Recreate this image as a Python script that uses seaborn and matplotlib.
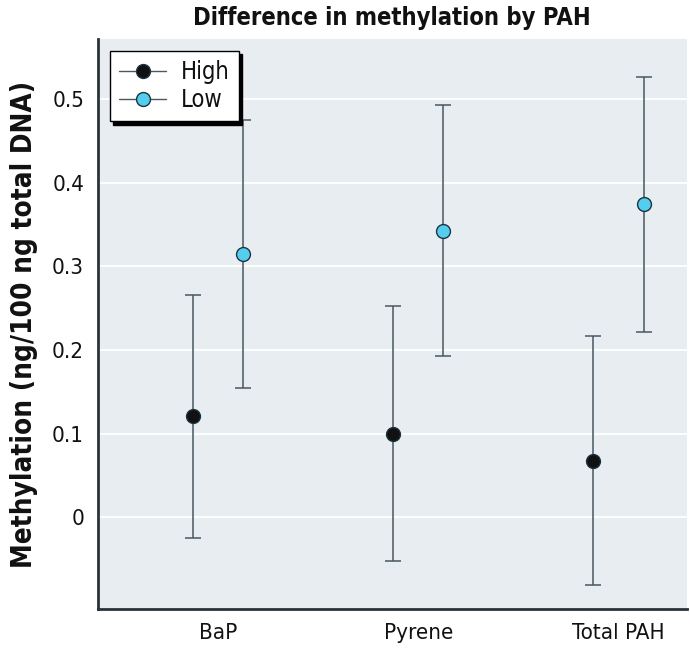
import numpy as np
import pandas as pd
import seaborn as sns
import matplotlib.pyplot as plt
from matplotlib.lines import Line2D

# values
compounds = ['BaP', 'Pyrene', 'Total PAH']
groups = ['High', 'Low']
high_mean = [0.121, 0.0995, 0.067]
high_lower = [-0.0245, -0.053, -0.081]
high_upper = [0.266, 0.253, 0.217]
low_mean = [0.3145, 0.342, 0.374]
low_lower = [0.155, 0.193, 0.222]
low_upper = [0.475, 0.493, 0.526]
y_ticks = [0, 0.1, 0.2, 0.3, 0.4, 0.5]

colors = {'High': '#111111', 'Low': '#55cdef'}
err_color = '#4a5860'

df = pd.DataFrame({
    'compound': compounds * 2,
    'group': ['High'] * 3 + ['Low'] * 3,
    'mean': high_mean + low_mean,
    'lower': high_lower + low_lower,
    'upper': high_upper + low_upper,
})

sns.set_style('white')
plt.rcParams['font.family'] = ['DejaVu Sans']
plt.rcParams['font.stretch'] = 'condensed'
plt.rcParams['text.color'] = '#111111'
plt.rcParams['xtick.color'] = '#111111'
plt.rcParams['ytick.color'] = '#111111'
plt.rcParams['axes.labelcolor'] = '#111111'

fig, ax = plt.subplots(figsize=(6.9, 6.5), dpi=100)
fig.subplots_adjust(left=0.142, right=0.995, top=0.94, bottom=0.063)
ax.set_facecolor('#e8edf2')

dodge = 0.25
offsets = {'High': -dodge / 2, 'Low': dodge / 2}

# error bars first, then the points on top
for g in groups:
    sub = df[df['group'] == g]
    xs = np.arange(len(compounds)) + offsets[g]
    ax.errorbar(xs, sub['mean'],
                yerr=[sub['mean'] - sub['lower'], sub['upper'] - sub['mean']],
                fmt='none', ecolor=err_color, elinewidth=1.1, capsize=6,
                capthick=1.1, zorder=2)

sns.pointplot(data=df, x='compound', y='mean', hue='group', hue_order=groups,
              palette=colors, dodge=dodge, linestyle='none', markers='o',
              errorbar=None, markersize=10, markeredgecolor='#1a3440',
              markeredgewidth=1, ax=ax, zorder=5, legend=False)

ax.set_xlim(-0.6, 2.34)
ax.set_ylim(-0.11, 0.572)
ax.set_yticks(y_ticks)
ax.set_yticklabels(['0', '0.1', '0.2', '0.3', '0.4', '0.5'])
ax.yaxis.grid(True, color='white', linewidth=1.3)
ax.set_axisbelow(True)
ax.tick_params(axis='both', labelsize=16, length=0, pad=10)

for s in ['top', 'right']:
    ax.spines[s].set_visible(False)
for s in ['left', 'bottom']:
    ax.spines[s].set_color('#2a3338')
    ax.spines[s].set_linewidth(2)

ax.set_xlabel('')
ax.set_ylabel('Methylation (ng/100 ng total DNA)', fontsize=20,
              fontweight='bold', labelpad=10)
ax.set_title('Difference in methylation by PAH', fontsize=17,
             fontweight='bold', pad=10)

handles = [Line2D([0], [0], color=err_color, lw=1, marker='o', markersize=10,
                  markerfacecolor=colors[g], markeredgecolor='#1a3440')
           for g in groups]
leg = ax.legend(handles, groups, loc='upper left', fontsize=17,
                frameon=True, fancybox=False, handlelength=2.0,
                borderaxespad=0.5, labelspacing=0.15, handletextpad=0.6,
                shadow={'color': 'black', 'alpha': 1, 'ox': 2.5, 'oy': -2.5})
leg.get_frame().set_edgecolor('black')
leg.get_frame().set_linewidth(1)
leg.get_frame().set_facecolor('white')
leg.get_frame().set_alpha(1)

fig.savefig('out.png', dpi=100)
